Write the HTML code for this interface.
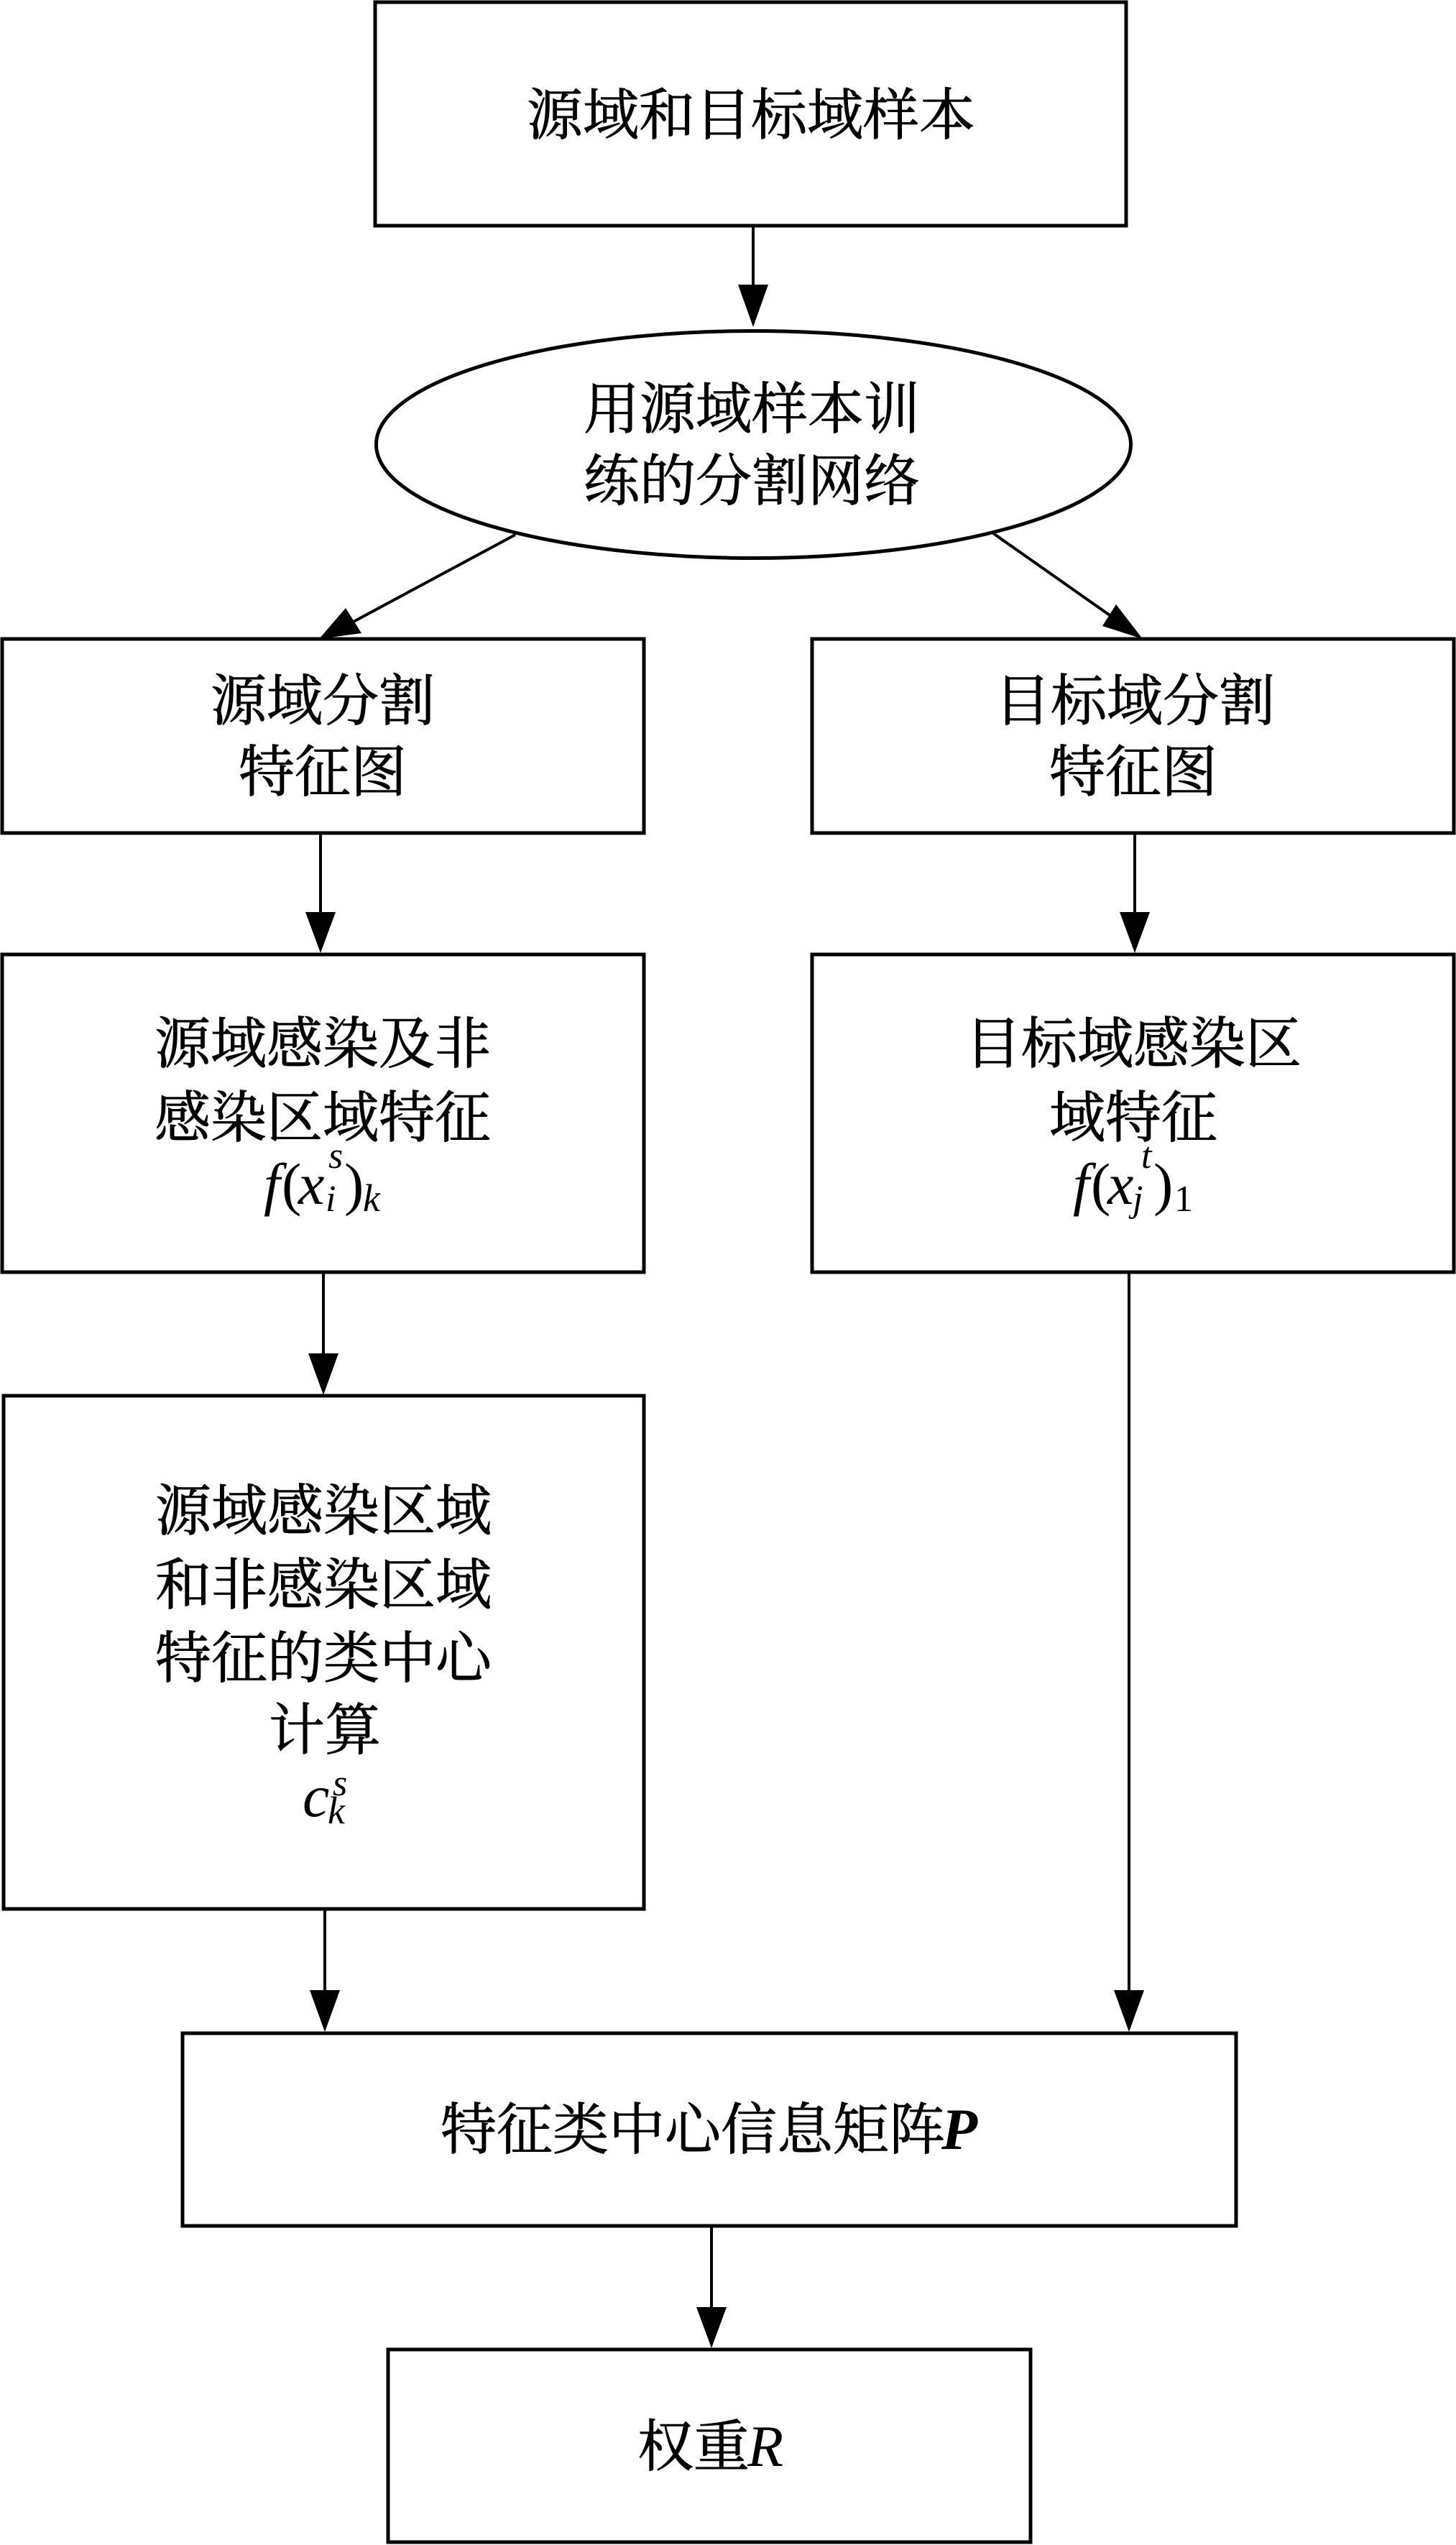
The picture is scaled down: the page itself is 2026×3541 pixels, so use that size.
<!DOCTYPE html>
<html><head><meta charset="utf-8"><style>
html,body{margin:0;padding:0;background:#fff;width:2026px;height:3541px;overflow:hidden}
svg{display:block}
.c{font-family:"Liberation Serif","Noto Serif CJK SC",serif;font-size:78px;text-anchor:middle;fill:#000;stroke:#000;stroke-width:.9px}
.m{font-family:"Liberation Serif",serif;font-style:italic;fill:#000}
.b{fill:#fff;stroke:#000;stroke-width:5}
.l{stroke:#000;stroke-width:4;fill:none}
</style></head><body>
<svg xmlns="http://www.w3.org/2000/svg" width="2026" height="3541" viewBox="0 0 2026 3541">
<rect width="2026" height="3541" fill="#fff"/>
<rect class="b" x="522" y="3" width="1045" height="311"/>
<ellipse class="b" cx="1048.5" cy="618.5" rx="525" ry="158"/>
<rect class="b" x="3" y="889" width="893" height="270"/>
<rect class="b" x="1130" y="889" width="893" height="270"/>
<rect class="b" x="3" y="1328" width="893" height="442"/>
<rect class="b" x="1130" y="1328" width="893" height="442"/>
<rect class="b" x="5" y="1942" width="891" height="714"/>
<rect class="b" x="254" y="2829" width="1466" height="268"/>
<rect class="b" x="540" y="3269" width="894" height="268"/>

<path class="l" d="M1048 314V400"/><polygon points="1048,455 1027,396 1069,396"/>
<path class="l" d="M717 744L490 866"/><polygon points="444,889 481,846 503,881"/>
<path class="l" d="M1382 742L1547 858"/><polygon points="1590,889 1553,841 1534,871"/>
<path class="l" d="M446 1159V1275"/><polygon points="446,1326 425,1269 467,1269"/>
<path class="l" d="M1579 1159V1275"/><polygon points="1579,1326 1558,1269 1600,1269"/>
<path class="l" d="M450 1770V1890"/><polygon points="450,1941 429,1883 471,1883"/>
<path class="l" d="M1571 1770V2775"/><polygon points="1571,2827 1550,2769 1592,2769"/>
<path class="l" d="M452 2656V2775"/><polygon points="452,2827 431,2769 473,2769"/>
<path class="l" d="M990 3097V3215"/><polygon points="990,3267 969,3210 1011,3210"/>

<text class="c" x="1045" y="187">源域和目标域样本</text>
<text class="c" x="1046" y="596">用源域样本训</text>
<text class="c" x="1046" y="696">练的分割网络</text>
<text class="c" x="449" y="1002">源域分割</text>
<text class="c" x="449" y="1101">特征图</text>
<text class="c" x="1579" y="1002">目标域分割</text>
<text class="c" x="1577" y="1101">特征图</text>
<text class="c" x="449" y="1479">源域感染及非</text>
<text class="c" x="449" y="1582">感染区域特征</text>
<text class="c" x="1577" y="1479">目标域感染区</text>
<text class="c" x="1577" y="1582">域特征</text>
<text class="c" x="450" y="2129">源域感染区域</text>
<text class="c" x="450" y="2232">和非感染区域</text>
<text class="c" x="450" y="2334">特征的类中心</text>
<text class="c" x="452" y="2434">计算</text>
<text class="c" x="964" y="2990">特征类中心信息矩阵</text>
<text class="c" x="965" y="3431">权重</text>

<text class="m" font-size="82" x="367" y="1675">f</text>
<text class="m" font-size="82" x="392" y="1675" style="font-style:normal">(</text>
<text class="m" font-size="82" x="415" y="1675">x</text>
<text class="m" font-size="52" x="453" y="1685">i</text>
<text class="m" font-size="52" x="457" y="1625">s</text>
<text class="m" font-size="82" x="479" y="1675" style="font-style:normal">)</text>
<text class="m" font-size="54" x="505" y="1685">k</text>

<text class="m" font-size="82" x="1493" y="1675">f</text>
<text class="m" font-size="82" x="1518" y="1675" style="font-style:normal">(</text>
<text class="m" font-size="82" x="1541" y="1675">x</text>
<text class="m" font-size="52" x="1576" y="1685">j</text>
<text class="m" font-size="52" x="1588" y="1625">t</text>
<text class="m" font-size="82" x="1605" y="1675" style="font-style:normal">)</text>
<text class="m" font-size="52" x="1634" y="1685" style="font-style:normal">1</text>

<text class="m" font-size="84" x="421" y="2527">c</text>
<text class="m" font-size="52" x="463" y="2498">s</text>
<text class="m" font-size="54" x="456" y="2537">k</text>

<text class="m" font-size="82" x="1310" y="2990" font-weight="bold">P</text>
<text class="m" font-size="82" x="1040" y="3431">R</text>
</svg>
</body></html>
